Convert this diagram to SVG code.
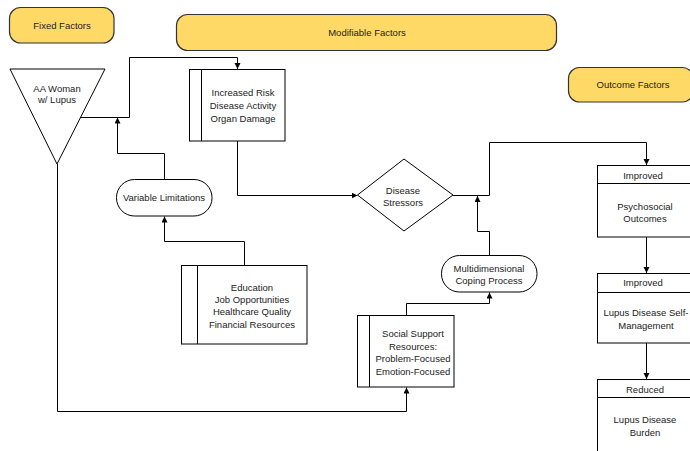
<svg xmlns="http://www.w3.org/2000/svg" width="690" height="451" viewBox="0 0 690 451">
<defs>
<marker id="arr" markerWidth="7" markerHeight="7" refX="6" refY="3" orient="auto" markerUnits="userSpaceOnUse">
<path d="M0,0 L6,3 L0,6 z" fill="#000"/>
</marker>
<style>
.hdr{fill:#FFD966;stroke:#333;stroke-width:1.2}
.box{fill:#fff;stroke:#000;stroke-width:1}
.ln{fill:none;stroke:#000;stroke-width:1}
.c{fill:none;stroke:#000;stroke-width:1;marker-end:url(#arr)}
text{font-family:"Liberation Sans",Arial,sans-serif;font-size:9.5px;fill:#222;text-anchor:middle}
</style>
</defs>
<rect width="690" height="451" fill="#fff"/>
<g id="fixed">
<rect class="hdr" x="9.5" y="7.5" width="104.5" height="35.5" rx="11"/>
<text x="62" y="28.5">Fixed Factors</text>
</g>
<g id="modifiable">
<rect class="hdr" x="176.5" y="14.5" width="380" height="36" rx="11"/>
<text x="367" y="36">Modifiable Factors</text>
</g>
<g id="outcome">
<rect class="hdr" x="568.5" y="67.5" width="125" height="34.5" rx="11"/>
<text x="633" y="87.5">Outcome Factors</text>
</g>
<g id="woman">
<polygon class="box" points="10,69 105,69 57,164"/>
<text x="57" y="91.5">AA Woman</text>
<text x="57" y="103">w/ Lupus</text>
</g>
<g id="risk">
<rect class="box" x="189.5" y="69.5" width="95.5" height="71.5"/>
<line class="ln" x1="201.5" y1="69.5" x2="201.5" y2="141"/>
<text x="243" y="95.5">Increased Risk</text>
<text x="243" y="109">Disease Activity</text>
<text x="243" y="122">Organ Damage</text>
</g>
<g id="varlim">
<rect class="box" x="116.5" y="179.5" width="95.5" height="36.5" rx="18"/>
<text x="164" y="201">Variable Limitations</text>
</g>
<g id="education">
<rect class="box" x="181.5" y="265.5" width="125.5" height="78.5"/>
<line class="ln" x1="197.5" y1="265.5" x2="197.5" y2="344"/>
<text x="252" y="290.5">Education</text>
<text x="252" y="302.5">Job Opportunities</text>
<text x="252" y="315">Healthcare Quality</text>
<text x="252" y="327.5">Financial Resources</text>
</g>
<g id="stressors">
<polygon class="box" points="357.5,195 404,159 453,195 404,231"/>
<text x="403" y="193.5">Disease</text>
<text x="403" y="205.5">Stressors</text>
</g>
<g id="coping">
<rect class="box" x="441.5" y="255.5" width="95.5" height="36.5" rx="18"/>
<text x="489" y="271.5">Multidimensional</text>
<text x="489" y="283.5">Coping Process</text>
</g>
<g id="social">
<rect class="box" x="357.5" y="315.5" width="96.5" height="71.5"/>
<line class="ln" x1="369.5" y1="315.5" x2="369.5" y2="387"/>
<text x="413" y="336.5">Social Support</text>
<text x="413" y="349.5">Resources:</text>
<text x="413" y="361.5">Problem-Focused</text>
<text x="413" y="374.5">Emotion-Focused</text>
</g>
<g id="psycho">
<rect class="box" x="597.5" y="165.5" width="94" height="71.5"/>
<line class="ln" x1="597.5" y1="183.5" x2="692" y2="183.5"/>
<text x="643" y="178.5">Improved</text>
<text x="645" y="209.5">Psychosocial</text>
<text x="645" y="221.5">Outcomes</text>
</g>
<g id="selfmgmt">
<rect class="box" x="597.5" y="273.5" width="94" height="69.5"/>
<line class="ln" x1="597.5" y1="292.5" x2="692" y2="292.5"/>
<text x="643" y="285.5">Improved</text>
<text x="646" y="315.5">Lupus Disease Self-</text>
<text x="646" y="328.5">Management</text>
</g>
<g id="burden">
<rect class="box" x="597.5" y="379.5" width="94" height="80"/>
<line class="ln" x1="597.5" y1="397.5" x2="692" y2="397.5"/>
<text x="645" y="392.5">Reduced</text>
<text x="645" y="422.5">Lupus Disease</text>
<text x="645" y="435.5">Burden</text>
</g>
<g id="connectors">
<path class="c" d="M81,117.5 H129.5 V57.5 H237.5 V69"/>
<path class="c" d="M164.5,179 V153.5 H117.5 V117.5"/>
<path class="c" d="M244.5,265 V241.5 H164.5 V216.5"/>
<path class="c" d="M237.5,141 V195.5 H357.5"/>
<path class="c" d="M453,195.5 H489.5 V142.5 H646.5 V165"/>
<path class="c" d="M489.5,255 V231.5 H477.5 V196"/>
<path class="c" d="M406.5,315 V303.5 H489.5 V292.5"/>
<path class="c" d="M57.5,164 V411.5 H406.5 V387.5"/>
<path class="c" d="M646.5,237 V273"/>
<path class="c" d="M646.5,343 V379"/>
</g>
</svg>
